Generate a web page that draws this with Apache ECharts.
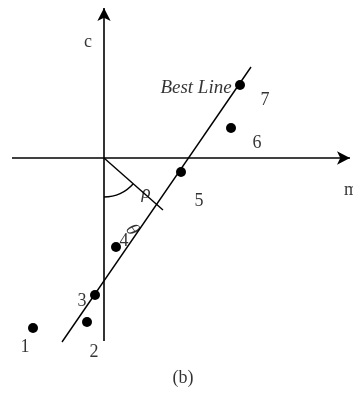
<!DOCTYPE html>
<html>
<head>
<meta charset="utf-8">
<script src="https://cdn.jsdelivr.net/npm/echarts@6/dist/echarts.min.js"></script>
<style>
  html, body { margin: 0; padding: 0; background: #fff; }
  #chart { width: 353px; height: 398px; }
</style>
</head>
<body>
<div id="chart"></div>
<script>
// numbered points (diagram units, origin at the axes crossing)
const pointNames = ['1', '2', '3', '4', '5', '6', '7'];
const pointX = [-7.1, -1.7, -0.9, 1.2, 7.7, 12.7, 13.6];
const pointY = [-17.0, -16.4, -13.7, -8.9, -1.4, 3.0, 7.3];
// where each number is written
const numX = [-7.9, -1.0, -2.2, 2.0, 9.5, 15.3, 16.1];
const numY = [-18.9, -19.4, -14.3, -8.3, -4.3, 1.5, 5.8];

// best line and its normal from the origin
const bestLineX = [-4.2, 14.7];
const bestLineY = [-18.4, 9.1];
const normalX = [0, 5.9];
const normalY = [0, -5.2];

// axes
const mAxisX = [-9.2, 24.6];
const cAxisY = [-18.3, 15.0];

// angle mark between c axis (down) and the normal
const arcRadius = 3.9;

const textNames = ['c', 'm', 'Best Line', '(b)'];
const textX = [-1.6, 24.7, 9.2, 7.9];
const textY = [11.6, -3.2, 7.0, -22.0];

const chart = echarts.init(document.getElementById('chart'));
const ink = '#000';
const serif = '"Liberation Serif", "DejaVu Serif", serif';

function pairs(xs, ys) {
    return xs.map((x, i) => [x, ys[i]]);
}

function textLabel(size, italic) {
    return {
        show: true,
        position: 'inside',
        formatter: '{b}',
        color: ink,
        fontFamily: serif,
        fontStyle: italic ? 'italic' : 'normal',
        fontSize: size
    };
}

const option = {
    animation: false,
    grid: { left: 0, right: 0, top: 0, bottom: 0 },
    xAxis: { type: 'value', min: -10.4, max: 24.9, show: false },
    yAxis: { type: 'value', min: -24.0, max: 15.8, show: false },
    series: [
        {
            // axes with arrows
            type: 'scatter',
            data: [],
            silent: true,
            markLine: {
                silent: true,
                animation: false,
                symbol: ['none', 'arrow'],
                symbolSize: [10, 13],
                label: { show: false },
                lineStyle: { color: ink, width: 1.6, type: 'solid', opacity: 1 },
                data: [
                    [{ coord: [mAxisX[0], 0] }, { coord: [mAxisX[1], 0] }],
                    [{ coord: [0, cAxisY[0]] }, { coord: [0, cAxisY[1]] }]
                ]
            }
        },
        {
            type: 'line',
            data: pairs(bestLineX, bestLineY),
            symbol: 'none',
            lineStyle: { color: ink, width: 1.4 },
            z: 3
        },
        {
            type: 'line',
            data: pairs(normalX, normalY),
            symbol: 'none',
            lineStyle: { color: ink, width: 1.4 },
            z: 3
        },
        {
            type: 'custom',
            data: [[0, 0]],
            renderItem: function (params, api) {
                const c = api.coord([0, 0]);
                const r = api.size([arcRadius, 0])[0];
                const end = api.coord([normalX[1], normalY[1]]);
                const a = Math.atan2(end[1] - c[1], end[0] - c[0]);
                return {
                    type: 'arc',
                    shape: { cx: c[0], cy: c[1], r: r, startAngle: a, endAngle: Math.PI / 2, clockwise: true },
                    style: { stroke: ink, lineWidth: 1.4, fill: null }
                };
            },
            z: 3
        },
        {
            type: 'scatter',
            data: pairs(pointX, pointY),
            symbolSize: 10,
            itemStyle: { color: ink, opacity: 1 },
            z: 4
        },
        {
            type: 'scatter',
            data: pointNames.map((n, i) => ({ name: n, value: [numX[i], numY[i]] })),
            symbolSize: 0,
            label: textLabel(18, false)
        },
        {
            type: 'scatter',
            data: textNames.map((n, i) => ({
                name: n,
                value: [textX[i], textY[i]],
                label: n === 'Best Line' ? { fontStyle: 'italic', fontSize: 19 } : undefined
            })),
            symbolSize: 0,
            label: textLabel(18, false)
        },
        {
            type: 'scatter',
            data: [
                { name: 'ρ', value: [4.2, -3.5], label: { rotate: 0 } },
                { name: 'θ', value: [2.8, -7.2], label: { rotate: -55 } }
            ],
            symbolSize: 0,
            label: textLabel(19, true)
        }
    ]
};

chart.setOption(option);
</script>
</body>
</html>
